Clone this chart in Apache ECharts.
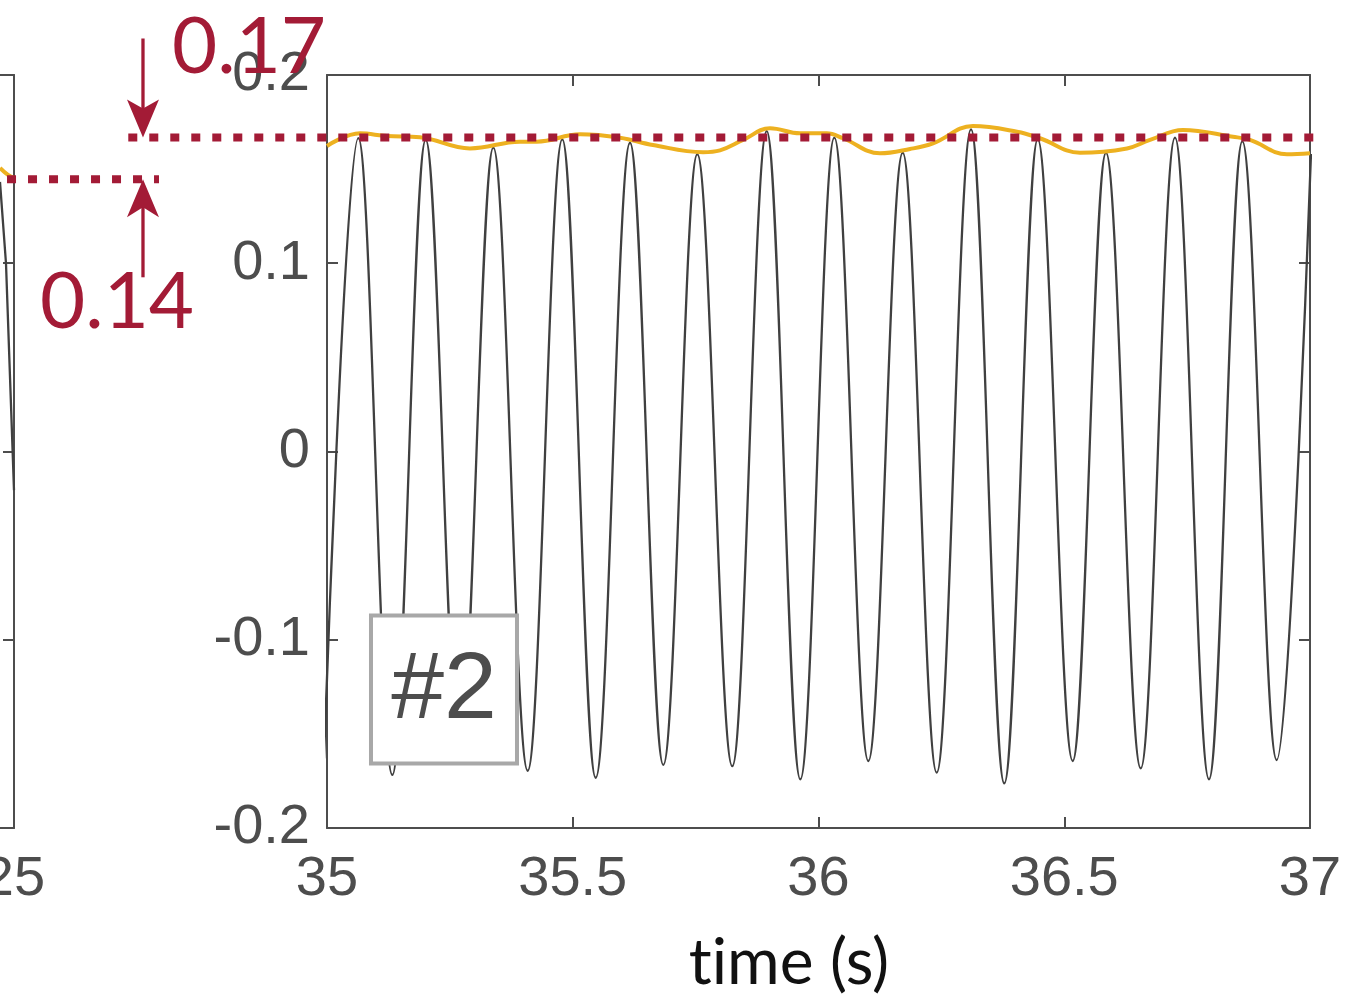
<!DOCTYPE html>
<html><head><meta charset="utf-8">
<script src="https://cdn.jsdelivr.net/npm/echarts@6/dist/echarts.min.js"></script>
<style>html,body{margin:0;padding:0;background:#fff}#c{width:1347px;height:997px}</style>
</head><body><div id="c"></div>
<script>
// ---- data ----
const xTickLabelsMain = ['35', '35.5', '36', '36.5', '37'];
const yTickLabels = ['-0.2', '-0.1', '0', '0.1', '0.2'];

// main panel (35–37 s): oscillation extrema
const peakTimes  = [35.0637, 35.2008, 35.3384, 35.4787, 35.6165, 35.7534, 35.8946, 36.0322, 36.1713, 36.3103, 36.4460, 36.5849, 36.7253, 36.8623, 37.0020];
const peakValues = [0.1665, 0.1655, 0.1614, 0.1658, 0.1640, 0.1579, 0.1702, 0.1667, 0.1587, 0.1711, 0.1658, 0.1587, 0.1667, 0.1647, 0.1580];
const troughTimes  = [34.9939, 35.1329, 35.2696, 35.4083, 35.5467, 35.6842, 35.8246, 35.9630, 36.1013, 36.2405, 36.3780, 36.5172, 36.6556, 36.7945, 36.9322];
const troughValues = [-0.1630, -0.1718, -0.1650, -0.1696, -0.1733, -0.1665, -0.1671, -0.1741, -0.1644, -0.1706, -0.1763, -0.1644, -0.1683, -0.1741, -0.1639];

// main panel: envelope (orange)
const envTimes  = [35.0000, 35.0671, 35.1215, 35.1892, 35.2909, 35.3927, 35.4266, 35.5148, 35.5961, 35.6633, 35.7650, 35.7996, 35.8464, 35.9013, 35.9624, 36.0167, 36.0498, 36.1251, 36.1862, 36.2330, 36.3143, 36.4039, 36.4506, 36.5320, 36.6277, 36.6745, 36.7416, 36.8433, 36.8779, 36.9532, 37.0000];
const envValues = [0.1623, 0.1690, 0.1676, 0.1669, 0.1610, 0.1646, 0.1646, 0.1685, 0.1667, 0.1628, 0.1590, 0.1600, 0.1655, 0.1717, 0.1690, 0.1690, 0.1664, 0.1584, 0.1607, 0.1637, 0.1729, 0.1699, 0.1664, 0.1587, 0.1610, 0.1655, 0.1708, 0.1672, 0.1655, 0.1579, 0.1584];

// left (previous) panel, only its right edge is visible
const leftTimes  = [24.9715, 24.9837, 25.0000];
const leftValues = [0.1432, 0.1000, -0.0205];
const leftEnvTimes  = [24.9715, 24.9878, 25.0000];
const leftEnvValues = [0.1506, 0.1469, 0.1453];

// reference levels (dotted lines) and their labels
const levelMain = 0.1668, levelMainLabel = '0.17';
const levelLeft = 0.1446, levelLeftLabel = '0.14';
const levelMainSpan = [34.5957, 37.0203];   // in main-panel time
const levelLeftSpan = [24.9858, 25.2950];   // in left-panel time
const panelTag = '#2';
const xAxisTitle = 't\u200Cime (s)';

// ---- build ----
const signal = [];
peakTimes.forEach((t, i) => signal.push([t, peakValues[i]]));
troughTimes.forEach((t, i) => signal.push([t, troughValues[i]]));
signal.sort((a, b) => a[0] - b[0]);
const envelope = envTimes.map((t, i) => [t, envValues[i]]);
const leftSignal = leftTimes.map((t, i) => [t, leftValues[i]]);
const leftEnvelope = leftEnvTimes.map((t, i) => [t, leftEnvValues[i]]);

const AX = '#4D4D4D', RED = '#A31B36', ORANGE = '#EDB120', SIG = '#404040';
const tickFont = {fontFamily: '"Liberation Sans", Arial, sans-serif', fontSize: 56, color: AX};
const axLine = {show: true, onZero: false, lineStyle: {color: AX, width: 2}};
const axTick = {show: true, inside: true, length: 11, lineStyle: {color: AX, width: 2}};

const chart = echarts.init(document.getElementById('c'), null, {renderer: 'canvas'});
const option = {
  animation: false,
  backgroundColor: '#fff',
  grid: [
    {left: -969, top: 75, width: 983, height: 753, containLabel: false, outerBoundsMode: 'none'},
    {left: 327, top: 75, width: 983, height: 753, containLabel: false, outerBoundsMode: 'none'}
  ],
  xAxis: [
    {gridIndex: 0, type: 'value', position: 'bottom', min: 23, max: 25, interval: 0.5,
     axisLine: axLine, axisTick: axTick, splitLine: {show: false},
     axisLabel: Object.assign({margin: 24, showMaxLabel: true}, tickFont)},
    {gridIndex: 0, type: 'value', position: 'top', min: 23, max: 25, interval: 0.5,
     axisLine: axLine, axisTick: axTick, splitLine: {show: false}, axisLabel: {show: false}},
    {gridIndex: 1, type: 'value', position: 'bottom', min: 35, max: 37, interval: 0.5,
     axisLine: axLine, axisTick: axTick, splitLine: {show: false},
     axisLabel: Object.assign({margin: 24, showMinLabel: true, showMaxLabel: true,
       formatter: v => xTickLabelsMain[Math.round((v - 35) / 0.5)]}, tickFont)},
    {gridIndex: 1, type: 'value', position: 'top', min: 35, max: 37, interval: 0.5,
     axisLine: axLine, axisTick: axTick, splitLine: {show: false}, axisLabel: {show: false}}
  ],
  yAxis: [
    {gridIndex: 0, type: 'value', position: 'left', min: -0.2, max: 0.2, interval: 0.1,
     axisLine: axLine, axisTick: axTick, splitLine: {show: false}, axisLabel: {show: false}},
    {gridIndex: 0, type: 'value', position: 'right', min: -0.2, max: 0.2, interval: 0.1,
     axisLine: axLine, axisTick: axTick, splitLine: {show: false}, axisLabel: {show: false}},
    {gridIndex: 1, type: 'value', position: 'left', min: -0.2, max: 0.2, interval: 0.1,
     axisLine: axLine, axisTick: axTick, splitLine: {show: false},
     axisLabel: Object.assign({margin: 17, showMinLabel: true, showMaxLabel: true,
       formatter: v => yTickLabels[Math.round((v + 0.2) / 0.1)]}, tickFont)},
    {gridIndex: 1, type: 'value', position: 'right', min: -0.2, max: 0.2, interval: 0.1,
     axisLine: axLine, axisTick: axTick, splitLine: {show: false}, axisLabel: {show: false}}
  ],
  series: [
    {type: 'line', xAxisIndex: 0, yAxisIndex: 0, data: leftSignal, symbol: 'none',
     lineStyle: {color: SIG, width: 2.3}, z: 2},
    {type: 'line', xAxisIndex: 0, yAxisIndex: 0, data: leftEnvelope, symbol: 'none', smooth: true,
     lineStyle: {color: ORANGE, width: 4}, z: 3},
    {type: 'line', xAxisIndex: 2, yAxisIndex: 2, data: signal, symbol: 'none',
     smooth: 0.363, smoothMonotone: 'x',
     lineStyle: {color: SIG, width: 2.3}, z: 2},
    {type: 'line', xAxisIndex: 2, yAxisIndex: 2, data: envelope, symbol: 'none', smooth: 0.4,
     lineStyle: {color: ORANGE, width: 4}, z: 3}
  ]
};
chart.setOption(option);

// ---- annotations positioned from the axes ----
const mA = chart.convertToPixel({xAxisIndex: 2, yAxisIndex: 2}, [levelMainSpan[0], levelMain]);
const mB = chart.convertToPixel({xAxisIndex: 2, yAxisIndex: 2}, [levelMainSpan[1], levelMain]);
const lA = chart.convertToPixel({xAxisIndex: 0, yAxisIndex: 0}, [levelLeftSpan[0], levelLeft]);
const lB = chart.convertToPixel({xAxisIndex: 0, yAxisIndex: 0}, [levelLeftSpan[1], levelLeft]);
const pMain = chart.convertToPixel({xAxisIndex: 2, yAxisIndex: 2}, [34.6256, levelMain]);
const ax = pMain[0];
const yT = mA[1], yB = lA[1];
const boxTL = chart.convertToPixel({xAxisIndex: 2, yAxisIndex: 2}, [35.0895, -0.0871]);
const redFont = '78px Lato, "Noto Sans", sans-serif';
const dotted = {stroke: RED, lineWidth: 8, lineDash: [9, 12], lineCap: 'butt'};
chart.setOption({
  graphic: [
    {type: 'line', z: 90, shape: {x1: mA[0], y1: mA[1], x2: mB[0], y2: mB[1]}, style: dotted},
    {type: 'line', z: 90, shape: {x1: lA[0], y1: lA[1], x2: lB[0], y2: lB[1]}, style: dotted},
    {type: 'line', z: 100, shape: {x1: ax, y1: yT - 99, x2: ax, y2: yT - 25}, style: {stroke: RED, lineWidth: 3.3}},
    {type: 'polygon', z: 100, shape: {points: [[ax, yT], [ax - 16, yT - 38], [ax, yT - 29], [ax + 16, yT - 38]]}, style: {fill: RED}},
    {type: 'line', z: 100, shape: {x1: ax, y1: yB + 25, x2: ax, y2: yB + 98}, style: {stroke: RED, lineWidth: 3.3}},
    {type: 'polygon', z: 100, shape: {points: [[ax, yB], [ax - 16, yB + 38], [ax, yB + 28], [ax + 16, yB + 38]]}, style: {fill: RED}},
    {type: 'text', z: 100, style: {text: levelMainLabel, x: ax + 29, y: yT - 90, fill: RED, font: redFont, textAlign: 'left', textVerticalAlign: 'middle'}},
    {type: 'text', z: 100, style: {text: levelLeftLabel, x: ax - 103, y: yB + 124, fill: RED, font: redFont, textAlign: 'left', textVerticalAlign: 'middle'}},
    {type: 'rect', z: 100, shape: {x: boxTL[0], y: boxTL[1], width: 146, height: 148},
     style: {fill: '#fff', stroke: '#A8A8A8', lineWidth: 4}},
    {type: 'text', z: 101, style: {text: panelTag, x: boxTL[0] + 73, y: boxTL[1] + 76, fill: AX,
     font: '95px "Liberation Sans", Arial, sans-serif', textAlign: 'center', textVerticalAlign: 'middle'}},
    {type: 'text', z: 100, style: {text: xAxisTitle, x: 789, y: 963, fill: '#111',
     font: '64px Lato, "Noto Sans", sans-serif', textAlign: 'center', textVerticalAlign: 'middle'}}
  ]
});
</script></body></html>
